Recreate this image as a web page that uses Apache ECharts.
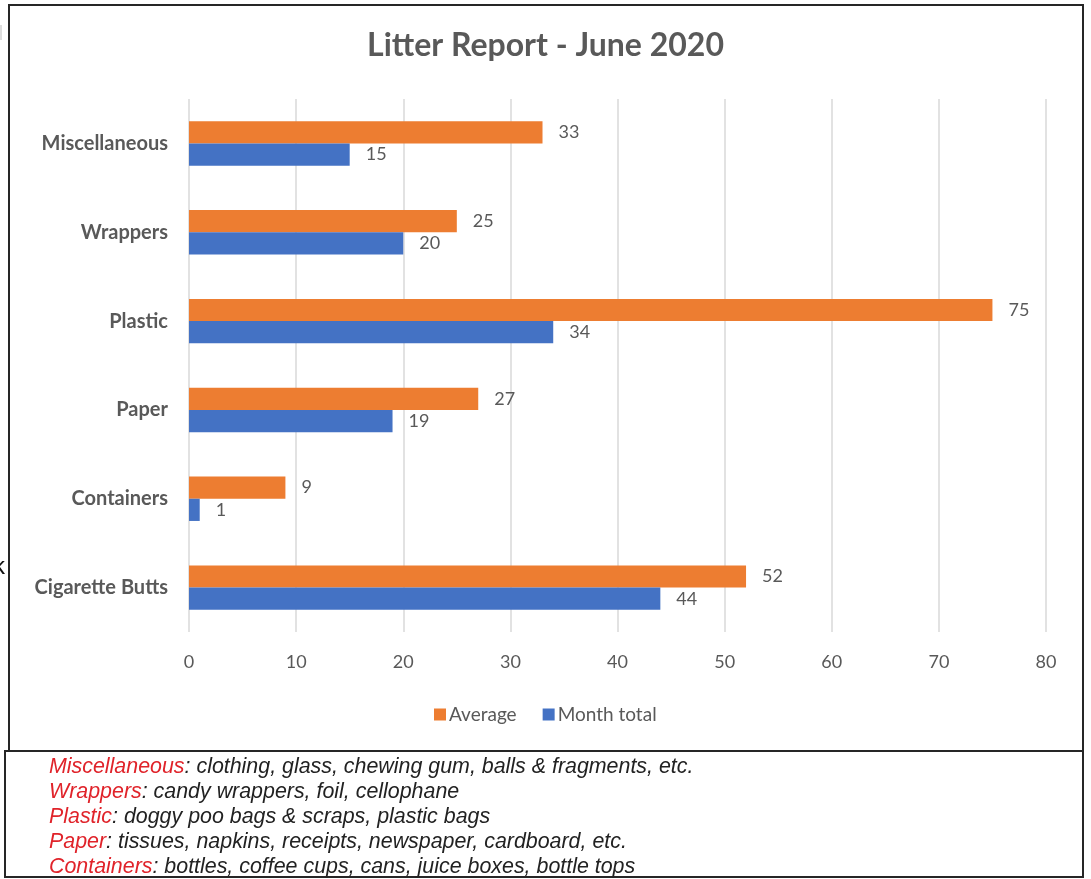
<!DOCTYPE html>
<html>
<head>
<meta charset="utf-8">
<script src="https://cdn.jsdelivr.net/npm/echarts@6/dist/echarts.min.js"></script>
<style>
html,body{margin:0;padding:0;background:#fff;}
#wrap{position:relative;width:1091px;height:879px;overflow:hidden;background:#fff;}
#chart{position:absolute;left:0;top:0;width:1091px;height:879px;}
.box{position:absolute;border:2px solid #262626;box-sizing:border-box;pointer-events:none;}
#notes{position:absolute;left:49px;top:754px;font-family:"Liberation Sans",Arial,sans-serif;font-style:italic;font-size:21.4px;line-height:25px;color:#222;white-space:nowrap;}
#notes span{color:#e0232a;}
#kk{position:absolute;left:-7px;top:552px;font-family:"Liberation Sans",Arial,sans-serif;font-size:24px;color:#111;}
#mark{position:absolute;left:0;top:25px;width:2px;height:15px;background:#ddd;}
</style>
</head>
<body>
<div id="wrap">
  <div id="chart"></div>
  <div class="box" style="left:8px;top:4px;width:1076px;height:748px;"></div>
  <div class="box" style="left:4px;top:750px;width:1080px;height:128px;"></div>
  <div id="mark"></div>
  <div id="kk">k</div>
  <div id="notes">
    <div><span>Miscellaneous</span>: clothing, glass, chewing gum, balls &amp; fragments, etc.</div>
    <div><span>Wrappers</span>: candy wrappers, foil, cellophane</div>
    <div><span>Plastic</span>: doggy poo bags &amp; scraps, plastic bags</div>
    <div><span>Paper</span>: tissues, napkins, receipts, newspaper, cardboard, etc.</div>
    <div><span>Containers</span>: bottles, coffee cups, cans, juice boxes, bottle tops</div>
  </div>
</div>
<script>
const categories = ['Cigarette Butts', 'Containers', 'Paper', 'Plastic', 'Wrappers', 'Miscellaneous'];
const averageValues = [52, 9, 27, 75, 25, 33];
const monthTotalValues = [44, 1, 19, 34, 20, 15];
const xTicks = [0, 10, 20, 30, 40, 50, 60, 70, 80];

const FONT = 'Lato, "Open Sans", sans-serif';
const TXT = '#595959';
const chart = echarts.init(document.getElementById('chart'));
chart.setOption({
  animation: false,
  title: {
    text: 'Litter Report - June 2020',
    left: 'center',
    top: 25,
    textStyle: {fontFamily: FONT, fontWeight: 'bold', fontSize: 32, color: TXT}
  },
  legend: {
    data: ['Average', 'Month total'],
    left: 429,
    top: 700,
    icon: 'rect',
    itemWidth: 12,
    itemHeight: 12,
    itemGap: 26,
    textStyle: {fontFamily: FONT, fontSize: 19, color: TXT, padding: [0, 0, 0, -2]}
  },
  grid: {left: 189, right: 45, top: 99, bottom: 247, containLabel: false},
  xAxis: {
    type: 'value',
    min: xTicks[0],
    max: xTicks[xTicks.length - 1],
    interval: 10,
    axisLine: {show: false},
    axisTick: {show: false},
    axisLabel: {fontFamily: FONT, fontSize: 18, color: TXT, margin: 21},
    splitLine: {show: true, lineStyle: {color: '#d9d9d9', width: 1.5}}
  },
  yAxis: {
    type: 'category',
    data: categories,
    axisLine: {show: false},
    axisTick: {show: false},
    axisLabel: {fontFamily: FONT, fontSize: 20, fontWeight: 'bold', color: TXT, margin: 21}
  },
  series: [
    {
      name: 'Average',
      type: 'bar',
      data: averageValues,
      itemStyle: {color: '#ED7D31'},
      barGap: '0%',
      barCategoryGap: '50%',
      label: {show: true, position: 'right', distance: 16, fontFamily: FONT, fontSize: 18, color: TXT}
    },
    {
      name: 'Month total',
      type: 'bar',
      data: monthTotalValues,
      itemStyle: {color: '#4472C4'},
      barGap: '0%',
      barCategoryGap: '50%',
      label: {show: true, position: 'right', distance: 16, fontFamily: FONT, fontSize: 18, color: TXT}
    }
  ]
});
</script>
</body>
</html>
